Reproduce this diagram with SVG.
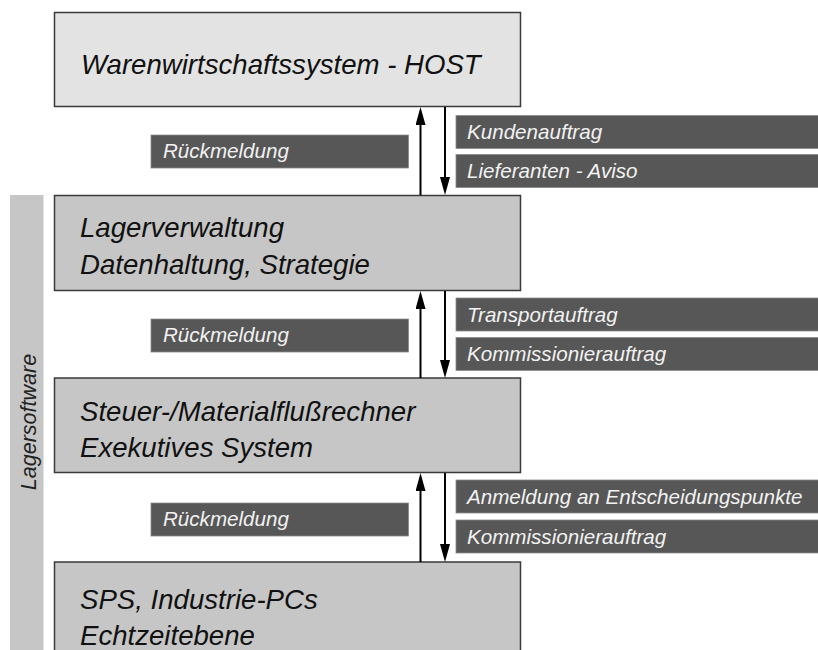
<svg xmlns="http://www.w3.org/2000/svg" width="818" height="650" viewBox="0 0 818 650">
  <style>
    .box { stroke: #3a3a3a; stroke-width: 1.5; }
    .top { fill: #e3e3e3; }
    .mid { fill: #c6c6c6; }
    .t { font-family: "Liberation Sans", Arial, sans-serif; font-style: italic; font-size: 27.6px; fill: #111; }
    .lab { fill: #575757; stroke: #8a8a8a; stroke-width: 0.8; }
    .lt { font-family: "Liberation Sans", Arial, sans-serif; font-style: italic; font-size: 20.6px; fill: #f2f2f2; }
    .side { font-family: "Liberation Sans", Arial, sans-serif; font-style: italic; font-size: 21.5px; fill: #222; }
    .arr { stroke: #000; stroke-width: 2; fill: none; }
  </style>
  <defs>
    <marker id="ah" markerUnits="userSpaceOnUse" markerWidth="18" markerHeight="11" refX="9" refY="5" orient="auto">
      <path d="M0,0 L18,5 L0,10 z" fill="#000"/>
    </marker>
  </defs>
  <rect width="818" height="650" fill="#fff"/>

  <g id="lagersoftware">
    <rect x="10" y="195" width="33.5" height="460" fill="#c6c6c6"/>
    <text class="side" transform="translate(36,422) rotate(-90)" text-anchor="middle">Lagersoftware</text>
  </g>

  <g id="host">
    <rect class="box top" x="54.5" y="12.5" width="466" height="94"/>
    <text class="t" x="81" y="74">Warenwirtschaftssystem - HOST</text>
  </g>
  <g id="lagerverwaltung">
    <rect class="box mid" x="54.5" y="195.5" width="466" height="95"/>
    <text class="t" x="80" y="237">Lagerverwaltung</text>
    <text class="t" x="80" y="274">Datenhaltung, Strategie</text>
  </g>
  <g id="materialfluss">
    <rect class="box mid" x="54.5" y="378" width="466" height="94.5"/>
    <text class="t" x="80" y="421">Steuer-/Materialflußrechner</text>
    <text class="t" x="80" y="457">Exekutives System</text>
  </g>
  <g id="sps">
    <rect class="box mid" x="54.5" y="562" width="466" height="100"/>
    <text class="t" x="80" y="609">SPS, Industrie-PCs</text>
    <text class="t" x="80" y="645">Echtzeitebene</text>
  </g>

  <g id="labels">
    <rect class="lab" x="151" y="135" width="257.5" height="33"/>
    <text class="lt" x="163" y="158">Rückmeldung</text>
    <rect class="lab" x="456" y="115.5" width="365" height="33"/>
    <text class="lt" x="467" y="139">Kundenauftrag</text>
    <rect class="lab" x="456" y="154.5" width="365" height="33"/>
    <text class="lt" x="467" y="178">Lieferanten - Aviso</text>

    <rect class="lab" x="151" y="319" width="257.5" height="33"/>
    <text class="lt" x="163" y="342">Rückmeldung</text>
    <rect class="lab" x="456" y="298" width="365" height="33"/>
    <text class="lt" x="467" y="322">Transportauftrag</text>
    <rect class="lab" x="456" y="337.5" width="365" height="33"/>
    <text class="lt" x="467" y="361">Kommissionierauftrag</text>

    <rect class="lab" x="151" y="503" width="257.5" height="33"/>
    <text class="lt" x="163" y="526">Rückmeldung</text>
    <rect class="lab" x="456" y="480" width="365" height="33"/>
    <text class="lt" x="467" y="504">Anmeldung an Entscheidungspunkte</text>
    <rect class="lab" x="456" y="520" width="365" height="33"/>
    <text class="lt" x="467" y="544">Kommissionierauftrag</text>
  </g>

  <g id="connectors">
    <path class="arr" d="M420.5,195 V116" marker-end="url(#ah)"/>
    <path class="arr" d="M445,107 V186" marker-end="url(#ah)"/>
    <path class="arr" d="M420.5,378 V300" marker-end="url(#ah)"/>
    <path class="arr" d="M445,291 V369" marker-end="url(#ah)"/>
    <path class="arr" d="M420.5,562 V482" marker-end="url(#ah)"/>
    <path class="arr" d="M445,473 V553" marker-end="url(#ah)"/>
  </g>
</svg>
